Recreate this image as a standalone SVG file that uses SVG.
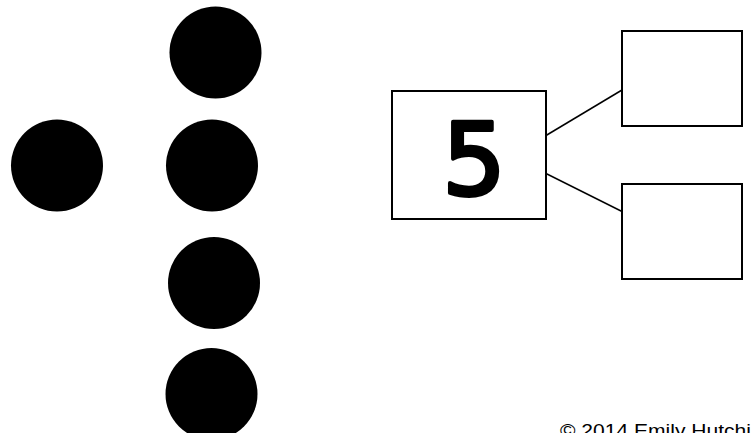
<svg xmlns="http://www.w3.org/2000/svg" width="751" height="433" viewBox="0 0 751 433">
<style>
.dot{fill:#000}
.box{fill:#fff;stroke:#000;stroke-width:2}
.conn line{stroke:#000;stroke-width:1.5}
.num{font-family:"DejaVu Sans","Liberation Sans",sans-serif;font-size:100px;fill:#000;stroke:#000;stroke-width:4;stroke-linejoin:round;text-anchor:middle}
.copy{font-family:"Liberation Sans Narrow","Liberation Sans",sans-serif;font-size:18px;fill:#000}
</style>
<rect width="751" height="433" fill="#fff"/>
<g id="dots">
<circle id="dot1" class="dot" cx="215.5" cy="52.5" r="46"/>
<circle id="dot2" class="dot" cx="57" cy="165.5" r="46"/>
<circle id="dot3" class="dot" cx="212" cy="165.5" r="46"/>
<circle id="dot4" class="dot" cx="214" cy="283" r="46"/>
<circle id="dot5" class="dot" cx="211.5" cy="394" r="46"/>
</g>
<g id="conn" class="conn">
<line x1="546" y1="135.5" x2="622" y2="90"/>
<line x1="546" y1="173.5" x2="622" y2="211.5"/>
</g>
<g id="whole">
<rect class="box" x="392" y="91" width="154" height="128"/>
<text class="num" x="474" y="195">5</text>
</g>
<g id="part1">
<rect class="box" x="622" y="31" width="120" height="95"/>
</g>
<g id="part2">
<rect class="box" x="622" y="184" width="120" height="95"/>
</g>
<text class="copy" x="560" y="437" textLength="191" lengthAdjust="spacingAndGlyphs">© 2014 Emily Hutchi</text>
</svg>
